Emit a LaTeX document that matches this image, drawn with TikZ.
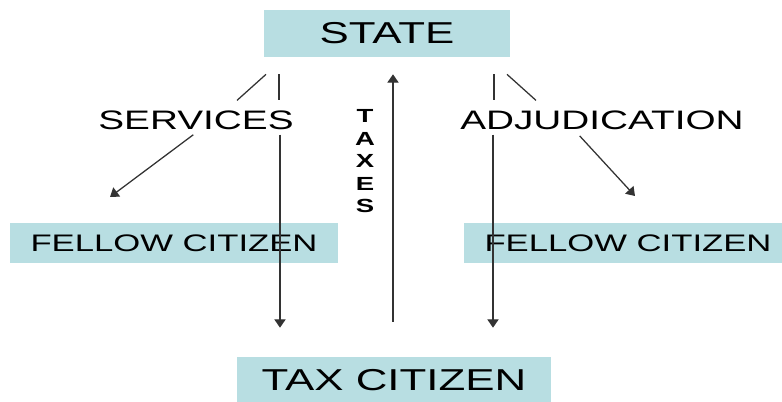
\documentclass[tikz,border=0pt]{standalone}
\usepackage{fontspec}
\usepackage{tikz}
\usetikzlibrary{arrows.meta}
\newfontfamily\widesans[FakeStretch=1.45]{Liberation Sans}
\definecolor{boxteal}{RGB}{184,222,226}
\tikzset{tealbox/.style={fill=boxteal,draw=none,inner sep=0pt},
 flowtext/.style={inner sep=0pt,font=\widesans\fontsize{19}{22}\selectfont},
 link/.style={draw=black!80,line width=0.9pt},
 flow/.style={link,-{Triangle[width=8pt,length=6pt]}},
 }

\begin{document}
\begin{tikzpicture}[x=0.025cm,y=-0.025cm]
        \clip (0,0) rectangle (782,401);
        \node[tealbox,minimum width=246*0.025cm,minimum height=47*0.025cm,
            font=\widesans\fontsize{21.5}{24}\selectfont] (state) at (387,33.5) {STATE};
        \node[tealbox,minimum width=328*0.025cm,minimum height=40*0.025cm,
            font=\widesans\fontsize{17}{20}\selectfont] (fellowleft) at (174,243) {FELLOW CITIZEN};
        \node[tealbox,minimum width=328*0.025cm,minimum height=40*0.025cm,
            font=\widesans\fontsize{17}{20}\selectfont] (fellowright) at (628,243) {FELLOW CITIZEN};
        \node[tealbox,minimum width=314*0.025cm,minimum height=46*0.025cm,
            font=\widesans\fontsize{21.5}{24}\selectfont] (taxcitizen) at (394,380) {TAX CITIZEN};
        \node[flowtext] (services) at (196,120) {SERVICES};
        \node[flowtext] (adjudication) at (602,120) {ADJUDICATION};
        \node[inner sep=0pt,align=center,font=\widesans\bfseries\fontsize{13.5}{16}\selectfont]
            (taxes) at (365,161.5) {T\\A\\X\\E\\S};
        \draw[link,shorten <=0.425cm,shorten >=0.25cm] (state.south -| 279,0) -- (services.north -| 279,0);
        \draw[link,shorten <=0.64cm,shorten >=0.37cm] (state.south -| 285,0) -- (services.north -| 226,0);
        \draw[link,shorten <=0.425cm,shorten >=0.25cm] (state.south -| 494,0) -- (adjudication.north -| 494,0);
        \draw[link,shorten <=0.64cm,shorten >=0.37cm] (state.south -| 488,0) -- (adjudication.north -| 547,0);
        \coordinate (lefttip) at (110,197);
        \coordinate (righttip) at (635,196);
        \draw[flow,shorten <=0.21cm] (services.south -| 200,0) -- (lefttip);
        \draw[flow,shorten <=0.21cm] (adjudication.south -| 574,0) -- (righttip);
        \draw[flow,shorten <=0.125cm,shorten >=0.725cm] (services.south -| 280,0) -- (taxcitizen.north -| 280,0);
        \draw[flow,shorten <=0.125cm,shorten >=0.725cm] (adjudication.south -| 493,0) -- (taxcitizen.north -| 493,0);
        \draw[flow,shorten <=0.875cm,shorten >=0.425cm] (taxcitizen.north -| 393,0) -- (state.south -| 393,0);
    \end{tikzpicture}
\end{document}
